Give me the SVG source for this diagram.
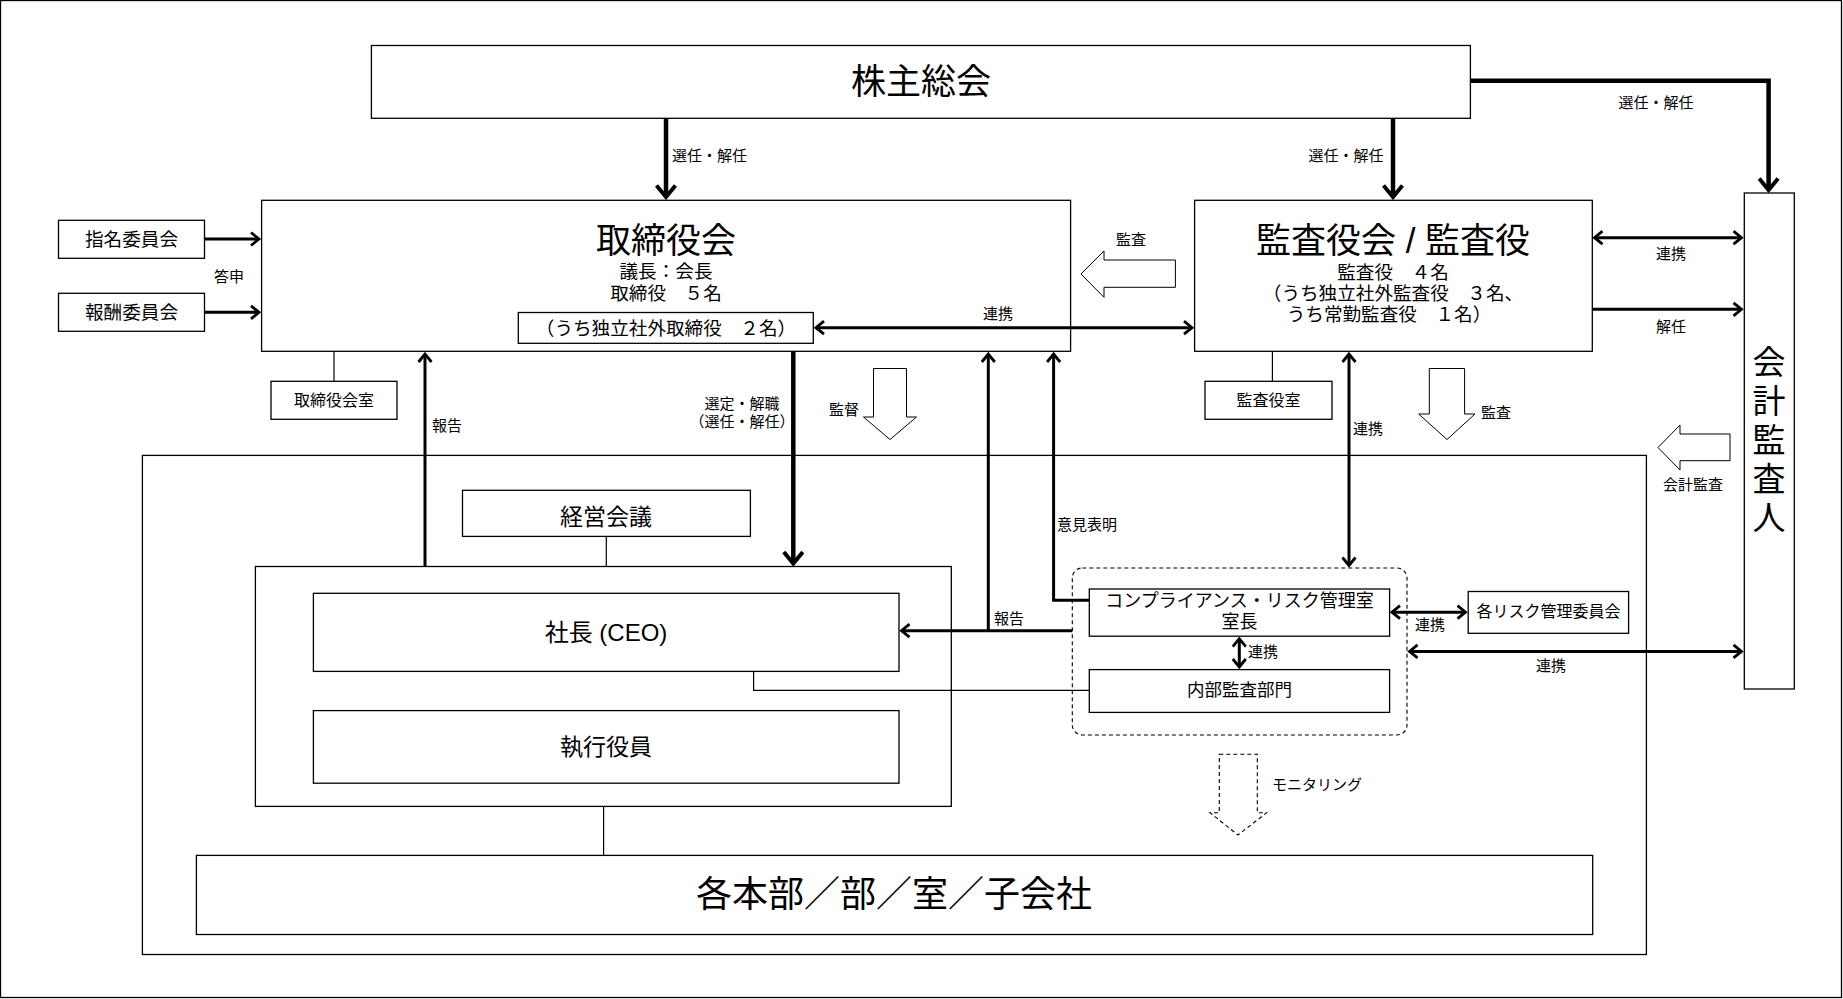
<svg xmlns="http://www.w3.org/2000/svg" width="1843" height="999" viewBox="0 0 1843 999">
<defs>
<style>
text{font-family:"Liberation Sans","Noto Sans CJK JP",sans-serif;fill:#000;dominant-baseline:central;text-anchor:middle}
.box{fill:#fff;stroke:#000;stroke-width:1.3}
.frame{fill:none;stroke:#000;stroke-width:1.3}
.thin{fill:none;stroke:#000;stroke-width:1.2}
.thick{fill:none;stroke:#000;stroke-width:4.5}
.med{fill:none;stroke:#000;stroke-width:3}
.hollow{fill:#fff;stroke:#000;stroke-width:1}
.dash{fill:none;stroke:#000;stroke-width:1.1;stroke-dasharray:4 3}
.s15{font-size:15px}
.s16{font-size:16px}
.s18{font-size:18px}
.s19{font-size:18.6px}
.s23{font-size:23px}
.s35{font-size:35px}
.l{text-anchor:start}
</style>
<marker id="ahT" viewBox="0 0 16 22" refX="13" refY="11" markerWidth="16" markerHeight="22" markerUnits="userSpaceOnUse" orient="auto-start-reverse">
<path d="M1.5,1.5 L13,11 L1.5,20.5" fill="none" stroke="#000" stroke-width="4"/>
</marker>
<marker id="ahM" viewBox="0 0 12 16" refX="9.5" refY="8" markerWidth="12" markerHeight="16" markerUnits="userSpaceOnUse" orient="auto-start-reverse">
<path d="M1.5,1.5 L9.5,8 L1.5,14.5" fill="none" stroke="#000" stroke-width="2.8"/>
</marker>
</defs>

<rect x="0.5" y="0.5" width="1841" height="997" class="frame"/>

<g id="inner-frame"><rect x="142.4" y="455.4" width="1504" height="499.1" class="frame"/></g>

<g id="shareholders"><rect class="box" x="371.4" y="45.5" width="1099" height="72.8"/><text class="s35" x="921" y="81">株主総会</text></g>

<g id="board">
<rect class="box" x="261.6" y="200.3" width="809" height="151"/>
<text class="s35" x="666" y="240">取締役会</text>
<text class="s19" x="666" y="271">議長：会長</text>
<text class="s19" x="666" y="293">取締役　５名</text>
<rect class="box" x="518.3" y="312.5" width="295" height="30.8"/>
<text class="s19" x="666" y="328">（うち独立社外取締役　２名）</text>
</g>

<g id="auditors">
<rect class="box" x="1194.6" y="200.3" width="397.7" height="151"/>
<text class="s35" x="1393" y="240">監査役会 / 監査役</text>
<text class="s19" x="1393" y="272">監査役　４名</text>
<text class="s19" x="1393" y="293">（うち独立社外監査役　３名、</text>
<text class="s19" x="1389" y="314">うち常勤監査役　１名）</text>
</g>

<g id="accounting-auditor">
<rect class="box" x="1744.3" y="193" width="50" height="496"/>
<text style="font-size:33px" x="1769" y="362">会</text>
<text style="font-size:33px" x="1769" y="401">計</text>
<text style="font-size:33px" x="1769" y="440">監</text>
<text style="font-size:33px" x="1769" y="479">査</text>
<text style="font-size:33px" x="1769" y="518">人</text>
</g>

<g id="nomination"><rect class="box" x="58.5" y="220.3" width="146" height="38"/><text class="s19" x="131.5" y="239">指名委員会</text></g>
<g id="compensation"><rect class="box" x="58.5" y="293.3" width="146" height="38"/><text class="s19" x="131.5" y="312">報酬委員会</text></g>
<g id="board-office"><rect class="box" x="271" y="381.3" width="126" height="38"/><text class="s16" x="334" y="400">取締役会室</text></g>
<g id="auditor-office"><rect class="box" x="1205" y="381.3" width="127" height="38"/><text class="s16" x="1268.5" y="400">監査役室</text></g>

<g id="management-meeting"><rect class="box" x="462.5" y="490.3" width="287.9" height="46.1"/><text class="s23" x="606" y="517">経営会議</text></g>

<g id="executive-group">
<rect class="frame" x="255.4" y="566.5" width="695.9" height="239.9"/>
</g>
<g id="ceo"><rect class="box" x="313.4" y="593.3" width="585.6" height="78.1"/><text style="font-size:24px" x="606" y="632">社長 (CEO)</text></g>
<g id="officers"><rect class="box" x="313.4" y="710.6" width="585.6" height="72.6"/><text class="s23" x="606" y="747">執行役員</text></g>

<g id="divisions"><rect class="box" x="196.4" y="855.4" width="1396.3" height="79.1"/><text style="font-size:36px" x="894" y="894">各本部／部／室／子会社</text></g>

<g id="compliance-group">
<rect class="dash" x="1072.3" y="568" width="334.7" height="167" rx="10" ry="10"/>
</g>
<g id="compliance"><rect class="box" x="1089.3" y="589" width="300.3" height="47.2"/><text class="s18" x="1239.5" y="601">コンプライアンス・リスク管理室</text><text class="s18" x="1239.5" y="622">室長</text></g>
<g id="internal-audit"><rect class="box" x="1089.3" y="669.6" width="300.3" height="42.8"/><text style="font-size:17.5px" x="1239.5" y="690">内部監査部門</text></g>
<g id="risk-committees"><rect class="box" x="1468.2" y="591.5" width="160.4" height="41.8"/><text class="s16" x="1548.4" y="611">各リスク管理委員会</text></g>

<g id="connectors">
<path class="thin" d="M334,351.3 V381.3"/>
<path class="thin" d="M1272.4,351.3 V381.3"/>
<path class="thin" d="M606.3,536.4 V566.5"/>
<path class="thin" d="M603.6,806.4 V855.4"/>
<path class="thin" d="M753.6,671.4 V690.3 H1089.3"/>

<path class="thick" d="M666,118.3 V197" marker-end="url(#ahT)"/>
<path class="thick" d="M1393,118.3 V197" marker-end="url(#ahT)"/>
<path class="thick" d="M1470.4,80.7 H1768.6 V190" marker-end="url(#ahT)"/>
<path class="thick" d="M793.3,351.3 V563.5" marker-end="url(#ahT)"/>

<path class="med" d="M204.5,239 H259" marker-end="url(#ahM)"/>
<path class="med" d="M204.5,312.3 H259" marker-end="url(#ahM)"/>
<path class="med" d="M425,566.5 V354" marker-end="url(#ahM)"/>
<path class="med" d="M816,327.7 H1192" marker-start="url(#ahM)" marker-end="url(#ahM)"/>
<path class="med" d="M988.3,630.7 V354" marker-end="url(#ahM)"/>
<path class="med" d="M1072.3,630.7 H901.5" marker-end="url(#ahM)"/>
<path class="med" d="M1089.3,600.2 H1053.6 V354" marker-end="url(#ahM)"/>
<path class="med" d="M1594.5,237.7 H1741.5" marker-start="url(#ahM)" marker-end="url(#ahM)"/>
<path class="med" d="M1592.3,309.3 H1741.5" marker-end="url(#ahM)"/>
<path class="med" d="M1349,354 V565.5" marker-start="url(#ahM)" marker-end="url(#ahM)"/>
<path class="med" d="M1239.3,638.7 V667" marker-start="url(#ahM)" marker-end="url(#ahM)"/>
<path class="med" d="M1392,612.2 H1465.5" marker-start="url(#ahM)" marker-end="url(#ahM)"/>
<path class="med" d="M1409.5,651.4 H1741.5" marker-start="url(#ahM)" marker-end="url(#ahM)"/>

<polygon class="hollow" points="1081,274 1104,251 1104,260 1175.4,260 1175.4,287.3 1104,287.3 1104,297.3"/>
<polygon class="hollow" points="873.5,368.5 906.5,368.5 906.5,417 916.5,417 890,439.5 863.5,417 873.5,417"/>
<polygon class="hollow" points="1429.3,368.5 1464.6,368.5 1464.6,414 1475,414 1447,439.5 1418.7,414 1429.3,414"/>
<polygon class="hollow" points="1658,447.5 1680,425 1680,434 1730,434 1730,460.7 1680,460.7 1680,470"/>
<polygon class="dash" points="1219.3,754.3 1257.3,754.3 1257.3,812.7 1266.7,812.7 1238,835 1210,812.7 1219.3,812.7"/>
</g>

<g id="labels">
<text class="s15 l" x="672" y="155">選任・解任</text>
<text class="s15" x="1346" y="155">選任・解任</text>
<text class="s15" x="1656" y="102">選任・解任</text>
<text class="s15" x="229" y="276">答申</text>
<text class="s15" x="1131" y="239">監査</text>
<text class="s15" x="998" y="313">連携</text>
<text class="s15" x="1671" y="253">連携</text>
<text class="s15" x="1671" y="326">解任</text>
<text class="s15 l" x="432" y="425">報告</text>
<text class="s15" x="742" y="403">選定・解職</text>
<text class="s15" x="742" y="421">（選任・解任）</text>
<text class="s15" x="844" y="409">監督</text>
<text class="s15" x="1496" y="412">監査</text>
<text class="s15 l" x="1353" y="428">連携</text>
<text class="s15" x="1693" y="484">会計監査</text>
<text class="s15" x="1087" y="524">意見表明</text>
<text class="s15" x="1009" y="618">報告</text>
<text class="s15 l" x="1248" y="651">連携</text>
<text class="s15" x="1430" y="624">連携</text>
<text class="s15" x="1551" y="665">連携</text>
<text class="s15" x="1317" y="784">モニタリング</text>
</g>
</svg>
